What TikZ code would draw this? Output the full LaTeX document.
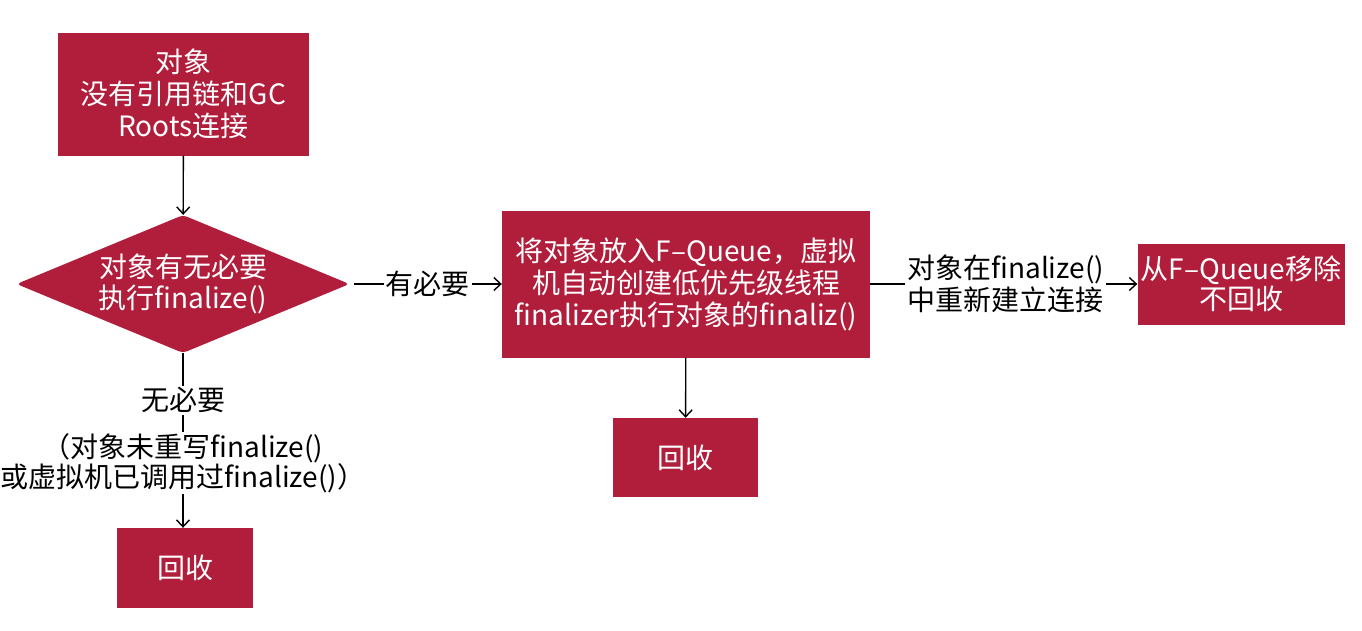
\documentclass[tikz,border=0pt]{standalone}
\usepackage{fontspec}
\setmainfont{Noto Sans CJK SC}
\usetikzlibrary{shapes.geometric,arrows.meta}
\definecolor{crim}{RGB}{176,30,60}
\tikzset{
  box/.style={fill=crim, text=white, align=center, inner sep=0pt, font=\fontsize{28}{32}\selectfont},
  lbl/.style={fill=white, text=black, align=center, inner sep=2pt, font=\fontsize{28}{32}\selectfont},
  conn/.style={line width=1.4pt, draw=black},
  arr/.style={conn, -{Straight Barb[length=7pt,width=13pt,line width=1.4pt]}}
}
\begin{document}
\begin{tikzpicture}[x=1pt,y=-1pt]
\useasboundingbox (0,0) rectangle (1362,630);
\node[box, minimum width=251pt, minimum height=123pt] (obj) at (183.5,94) {对象\\没有引用链和GC\\Roots连接};
\node[box, diamond, rounded corners=4pt, minimum width=333pt, minimum height=138pt, inner sep=0pt, shape aspect=2.4, font=\fontsize{28}{31}\selectfont] (dec) at (183,284) {对象有无必要\\执行finalize()};
\node[box, minimum width=136pt, minimum height=80pt] (rec1) at (185,568) {回收};
\node[box, minimum width=368pt, minimum height=147pt] (fq) at (686,284) {将对象放入F–Queue，虚拟\\机自动创建低优先级线程\\finalizer执行对象的finaliz()};
\node[box, minimum width=145pt, minimum height=79pt] (rec2) at (685.5,457.5) {回收};
\node[box, minimum width=207pt, minimum height=81pt, font=\fontsize{28}{30}\selectfont] (rm) at (1241,284) {从F–Queue移除\\不回收};

\draw[arr] (obj) -- (dec);
\draw[arr] (dec.south) -- (dec.south |- rec1.north)
  node[lbl, pos=0.27] {无必要}
  node[lbl, pos=0.63, inner sep=1pt, font=\fontsize{28}{30}\selectfont] {（对象未重写finalize()\\或虚拟机已调用过finalize()）};
\draw[arr] (dec.east) ++(4,0) -- (fq.west |- dec.east) node[lbl, midway] {有必要};
\draw[arr] (fq) -- (rec2);
\draw[arr] (fq.east) -- (rm.west) node[lbl, midway, xshift=2pt] {对象在finalize()\\中重新建立连接};
\end{tikzpicture}
\end{document}
